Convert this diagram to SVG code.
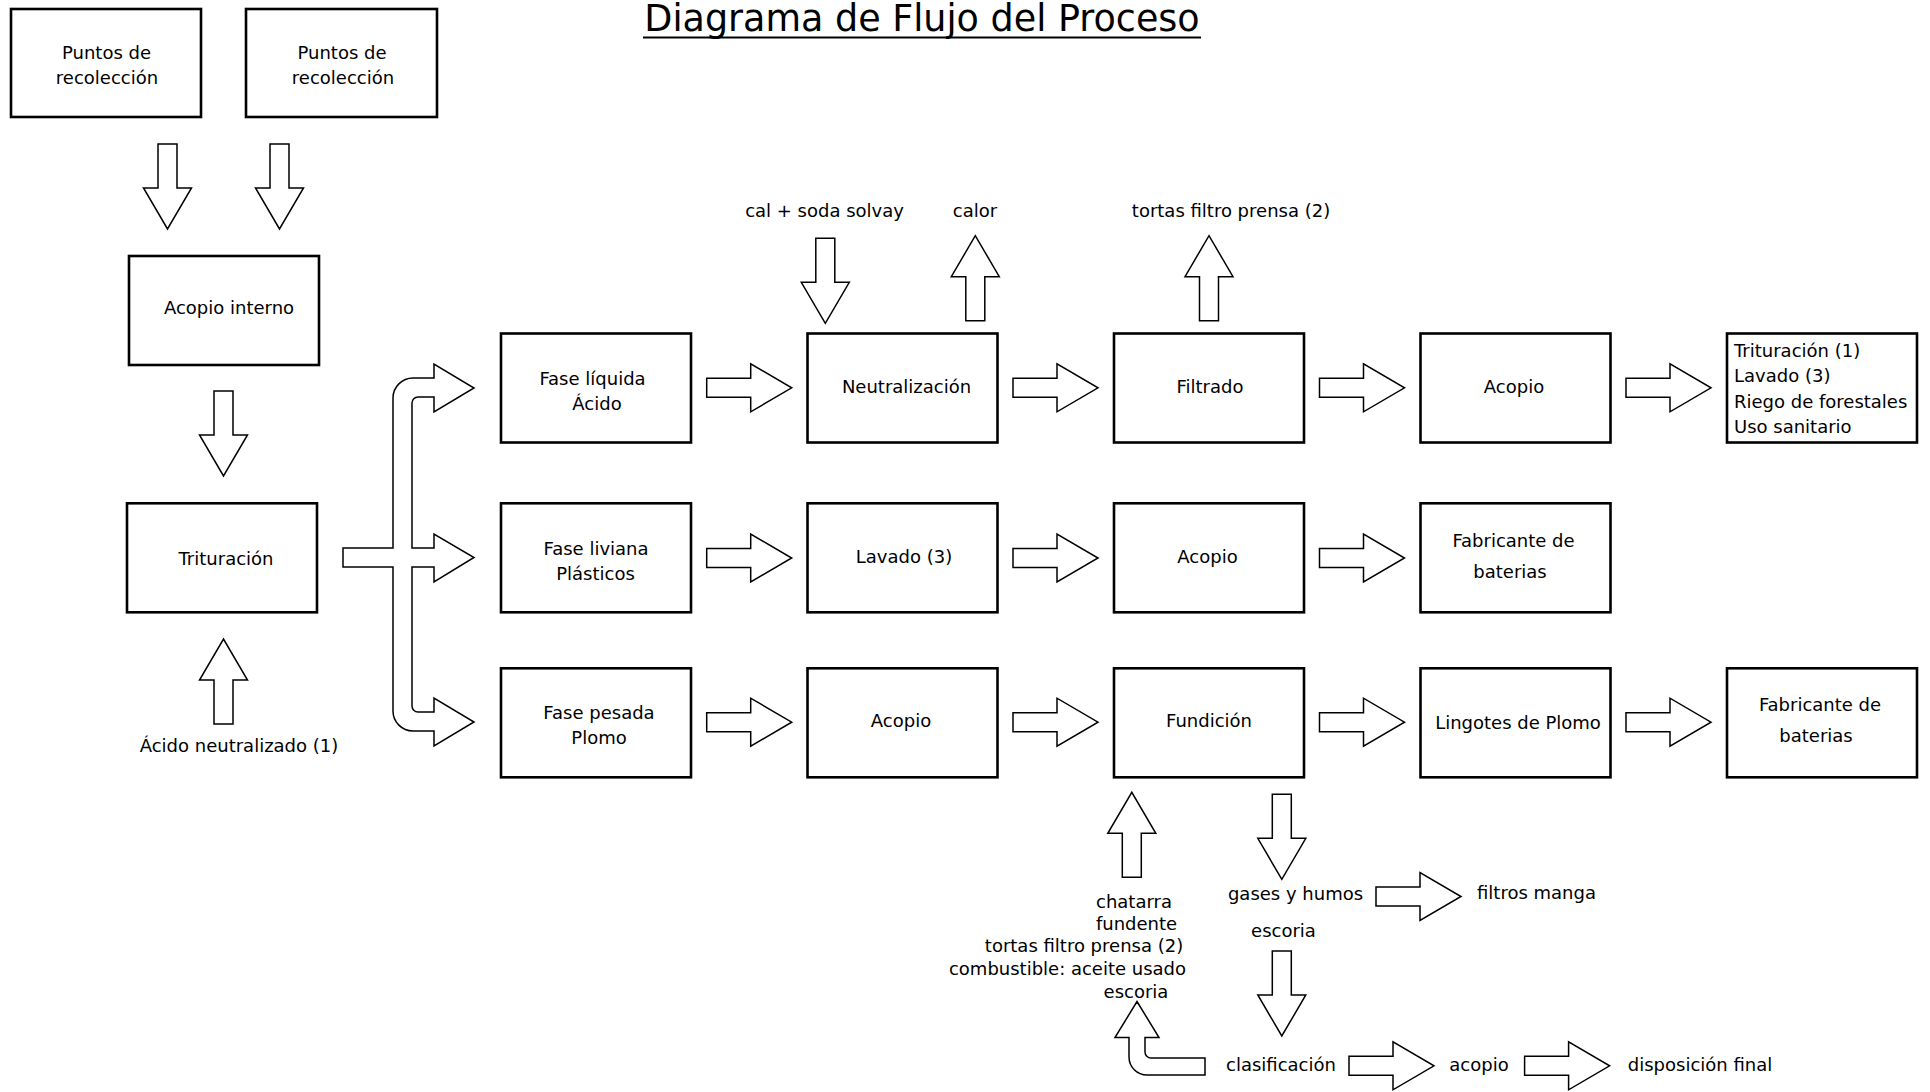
<svg xmlns="http://www.w3.org/2000/svg" xmlns:xlink="http://www.w3.org/1999/xlink" width="1930" height="1092" viewBox="0 0 1930 1092">
  <style>
    text { font-family: "DejaVu Sans", Verdana, sans-serif; font-size: 18px; fill: #000; }
    .c { text-anchor: middle; }
    .title { font-size: 36.5px; text-anchor: middle; }
    .box { fill: #fff; stroke: #000; stroke-width: 2.6; }
    .arr { fill: #fff; stroke: #000; stroke-width: 1.5; stroke-linejoin: miter; }
  </style>
  <defs>
    <!-- block arrow pointing right, origin at tail centre -->
    <path id="ar" d="M0,-9.5 H44 V-24 L85,0 L44,24 V9.5 H0 Z"/>
  </defs>
  <rect width="1930" height="1092" fill="#fff"/>

  <!-- title -->
  <g id="title">
    <text class="title" x="922" y="30.5">Diagrama de Flujo del Proceso</text>
    <line x1="643" y1="37.5" x2="1201" y2="37.5" stroke="#000" stroke-width="2"/>
  </g>

  <!-- nodes -->
  <g id="n-puntos1"><rect class="box" x="11" y="9" width="190" height="108"/>
    <text class="c" x="106.5" y="58.5">Puntos de</text><text class="c" x="107" y="83.5">recolección</text></g>
  <g id="n-puntos2"><rect class="box" x="246" y="9" width="191" height="108"/>
    <text class="c" x="342" y="58.5">Puntos de</text><text class="c" x="343" y="83.5">recolección</text></g>
  <g id="n-acopio-interno"><rect class="box" x="129" y="256" width="190" height="109"/>
    <text class="c" x="229" y="314">Acopio interno</text></g>
  <g id="n-trituracion"><rect class="box" x="127" y="503.3" width="190" height="109"/>
    <text class="c" x="226" y="565">Trituración</text></g>

  <g id="n-fase-liquida"><rect class="box" x="501" y="333.5" width="190" height="109"/>
    <text class="c" x="592.5" y="384.5">Fase líquida</text><text class="c" x="597" y="410">Ácido</text></g>
  <g id="n-fase-liviana"><rect class="box" x="501" y="503.3" width="190" height="109"/>
    <text class="c" x="596" y="555">Fase liviana</text><text class="c" x="595.5" y="579.5">Plásticos</text></g>
  <g id="n-fase-pesada"><rect class="box" x="501" y="668.3" width="190" height="109"/>
    <text class="c" x="599" y="718.5">Fase pesada</text><text class="c" x="599" y="744">Plomo</text></g>

  <g id="n-neutralizacion"><rect class="box" x="807.5" y="333.5" width="190" height="109"/>
    <text class="c" x="906.5" y="392.5">Neutralización</text></g>
  <g id="n-lavado"><rect class="box" x="807.5" y="503.3" width="190" height="109"/>
    <text class="c" x="904" y="562.5">Lavado (3)</text></g>
  <g id="n-acopio-plomo"><rect class="box" x="807.5" y="668.3" width="190" height="109"/>
    <text class="c" x="901" y="726.5">Acopio</text></g>

  <g id="n-filtrado"><rect class="box" x="1114" y="333.5" width="190" height="109"/>
    <text class="c" x="1210" y="392.5">Filtrado</text></g>
  <g id="n-acopio-plasticos"><rect class="box" x="1114" y="503.3" width="190" height="109"/>
    <text class="c" x="1207.5" y="562.5">Acopio</text></g>
  <g id="n-fundicion"><rect class="box" x="1114" y="668.3" width="190" height="109"/>
    <text class="c" x="1209" y="726.5">Fundición</text></g>

  <g id="n-acopio-liquido"><rect class="box" x="1420.5" y="333.5" width="190" height="109"/>
    <text class="c" x="1514" y="393">Acopio</text></g>
  <g id="n-fabricante1"><rect class="box" x="1420.5" y="503.3" width="190" height="109"/>
    <text class="c" x="1513.5" y="547">Fabricante de</text><text class="c" x="1510" y="577.5">baterias</text></g>
  <g id="n-lingotes"><rect class="box" x="1420.5" y="668.3" width="190" height="109"/>
    <text class="c" x="1518" y="729">Lingotes de Plomo</text></g>

  <g id="n-usos"><rect class="box" x="1727" y="333.5" width="190" height="109"/>
    <text x="1734" y="356.5">Trituración (1)</text>
    <text x="1734" y="382">Lavado (3)</text>
    <text x="1734" y="407.5">Riego de forestales</text>
    <text x="1734" y="433">Uso sanitario</text></g>
  <g id="n-fabricante2"><rect class="box" x="1727" y="668.3" width="190" height="109"/>
    <text class="c" x="1820" y="711">Fabricante de</text><text class="c" x="1816" y="742">baterias</text></g>

  <!-- free labels -->
  <g id="labels">
    <text class="c" x="239" y="752">Ácido neutralizado (1)</text>
    <text class="c" x="824.5" y="217">cal + soda solvay</text>
    <text class="c" x="975" y="217">calor</text>
    <text class="c" x="1231" y="217">tortas filtro prensa (2)</text>
    <text class="c" x="1295.5" y="900">gases y humos</text>
    <text class="c" x="1536.5" y="898.5">filtros manga</text>
    <text class="c" x="1283.5" y="936.5">escoria</text>
    <text class="c" x="1134" y="908">chatarra</text>
    <text class="c" x="1136.5" y="930">fundente</text>
    <text class="c" x="1084" y="952">tortas filtro prensa (2)</text>
    <text class="c" x="1067.5" y="974.5">combustible: aceite usado</text>
    <text class="c" x="1136" y="997.5">escoria</text>
    <text class="c" x="1281" y="1071">clasificación</text>
    <text class="c" x="1479" y="1071">acopio</text>
    <text class="c" x="1700" y="1071">disposición final</text>
  </g>

  <!-- connectors -->
  <g id="connectors">
    <!-- vertical feeds -->
    <use xlink:href="#ar" class="arr" transform="translate(167.5,144) rotate(90)"/>
    <use xlink:href="#ar" class="arr" transform="translate(279.5,144) rotate(90)"/>
    <use xlink:href="#ar" class="arr" transform="translate(223.5,391) rotate(90)"/>
    <use xlink:href="#ar" class="arr" transform="translate(223.5,724) rotate(-90)"/>
    <use xlink:href="#ar" class="arr" transform="translate(825.3,238.3) rotate(90)"/>
    <use xlink:href="#ar" class="arr" transform="translate(975.3,320.7) rotate(-90)"/>
    <use xlink:href="#ar" class="arr" transform="translate(1209,320.7) rotate(-90)"/>
    <use xlink:href="#ar" class="arr" transform="translate(1131.8,877.3) rotate(-90)"/>
    <use xlink:href="#ar" class="arr" transform="translate(1281.8,794.3) rotate(90)"/>
    <use xlink:href="#ar" class="arr" transform="translate(1281.8,951) rotate(90)"/>

    <!-- row 1 -->
    <use xlink:href="#ar" class="arr" transform="translate(706.7,387.8)"/>
    <use xlink:href="#ar" class="arr" transform="translate(1013,387.8)"/>
    <use xlink:href="#ar" class="arr" transform="translate(1319.5,387.8)"/>
    <use xlink:href="#ar" class="arr" transform="translate(1626,387.8)"/>
    <!-- row 2 -->
    <use xlink:href="#ar" class="arr" transform="translate(706.7,558)"/>
    <use xlink:href="#ar" class="arr" transform="translate(1013,558)"/>
    <use xlink:href="#ar" class="arr" transform="translate(1319.5,558)"/>
    <!-- row 3 -->
    <use xlink:href="#ar" class="arr" transform="translate(706.7,722.2)"/>
    <use xlink:href="#ar" class="arr" transform="translate(1013,722.2)"/>
    <use xlink:href="#ar" class="arr" transform="translate(1319.5,722.2)"/>
    <use xlink:href="#ar" class="arr" transform="translate(1626,722.2)"/>

    <!-- by-products -->
    <use xlink:href="#ar" class="arr" transform="translate(1376,896.5)"/>
    <use xlink:href="#ar" class="arr" transform="translate(1349,1065.8)"/>
    <use xlink:href="#ar" class="arr" transform="translate(1524.6,1065.8)"/>

    <!-- three-way split after Trituración -->
    <path class="arr" d="M343,548 H393 V398 A20,20 0 0 1 413,378 H434 V364 L474,388 L434,412 V397 H418 A6,6 0 0 0 412,403 V548 H434 V534 L474,557.5 L434,582 V567 H412 V706 A6,6 0 0 0 418,712 H434 V698 L474,722 L434,746 V731 H413 A20,20 0 0 1 393,711 V567 H343 Z"/>

    <!-- slag return from clasificación -->
    <path class="arr" d="M1205,1058 H1151 A6,6 0 0 1 1145,1052 V1037.5 H1159 L1137,1001.5 L1115,1037.5 H1129 V1057 A18,18 0 0 0 1147,1075 H1205 Z"/>
  </g>
</svg>
